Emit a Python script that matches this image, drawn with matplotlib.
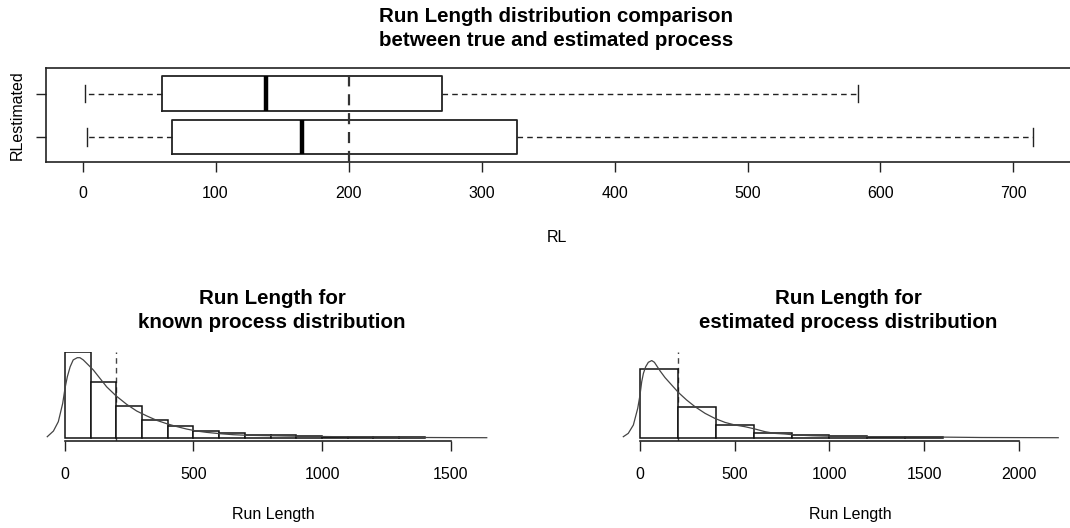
import numpy as np
import matplotlib
matplotlib.use("Agg")
import matplotlib.pyplot as plt

plt.rcParams['font.family'] = ['Liberation Sans', 'DejaVu Sans']

# Boxplot summaries (whisker low, Q1, median, Q3, whisker high)
box_labels = ["RL", "RLestimated"]
rl_stats = [3, 67, 165, 327, 715]
rl_est_stats = [2, 60, 138, 270, 583]
target_arl = 200

# Histogram of the known-process run length (density, x1e-3), bin width 100
known_edges = [0, 100, 200, 300, 400, 500, 600, 700, 800, 900, 1000, 1100, 1200, 1300, 1400]
known_heights = [3.84, 2.49, 1.44, 0.80, 0.54, 0.30, 0.19, 0.12, 0.10, 0.058, 0.045, 0.031, 0.031, 0.013]
# Kernel density of the known-process run length (x1e-3)
known_kde_x = [-69, -45, -26, -9, 0, 9, 20, 32, 48, 58, 71, 91, 110, 136, 162, 198, 240, 279,
               318, 357, 396, 435, 473, 512, 551, 603, 655, 700, 800, 900, 1000, 1100, 1200,
               1300, 1400, 1500, 1641]
known_kde_y = [0.045, 0.30, 0.72, 1.54, 2.22, 2.74, 3.19, 3.50, 3.60, 3.60, 3.50, 3.27, 3.05,
               2.67, 2.29, 1.89, 1.50, 1.20, 0.98, 0.78, 0.63, 0.50, 0.39, 0.30, 0.24, 0.18,
               0.135, 0.112, 0.090, 0.067, 0.054, 0.040, 0.031, 0.022, 0.009, 0.004, 0.0]

# Histogram of the estimated-process run length (density, x1e-3), bin width 200
est_edges = [0, 200, 400, 600, 800, 1000, 1200, 1400, 1600]
est_heights = [2.79, 1.26, 0.515, 0.203, 0.093, 0.061, 0.041, 0.041]
est_kde_x = [-88, -62, -35, -12, 0, 9, 18, 30, 44, 62, 76, 88, 106, 132, 167, 202, 246, 290,
             343, 396, 449, 501, 554, 607, 660, 712, 765, 818, 906, 1000, 1200, 1400, 1600,
             1800, 2000, 2207]
est_kde_y = [0.041, 0.175, 0.515, 1.19, 1.73, 2.27, 2.61, 2.88, 3.06, 3.13, 3.06, 2.92, 2.71,
             2.44, 2.14, 1.84, 1.53, 1.26, 0.99, 0.78, 0.62, 0.515, 0.446, 0.353, 0.244, 0.175,
             0.150, 0.110, 0.081, 0.061, 0.041, 0.032, 0.024, 0.008, 0.004, 0.0]

W, H = 1070, 528
fig = plt.figure(figsize=(W / 100, H / 100), dpi=100)


def px_axes(left, top, right, bottom):
    return fig.add_axes([left / W, 1 - bottom / H, (right - left) / W, (bottom - top) / H])


def fig_text(x, y, s, **kw):
    fig.text(x / W, 1 - y / H, s, ha='center', va='center', **kw)


# ---- top: horizontal boxplots ----
ax = px_axes(46, 68.3, 1072, 162.3)
stats = []
for lab, s in zip(box_labels, [rl_stats, rl_est_stats]):
    stats.append(dict(label=lab, whislo=s[0], q1=s[1], med=s[2], q3=s[3], whishi=s[4], fliers=[]))
ax.bxp(stats, positions=[1, 2], widths=0.8, capwidths=0.4, orientation='horizontal',
       showfliers=False,
       boxprops=dict(color='#222222', lw=1.3),
       medianprops=dict(color='black', lw=3.2, solid_capstyle='butt'),
       whiskerprops=dict(color='#222222', lw=1.0, linestyle=(0, (4, 3))),
       capprops=dict(color='#222222', lw=1.0))
ax.axvline(target_arl, color='#333333', lw=1.6, linestyle=(0, (5, 3.5)), zorder=5)
ax.set_xlim(-27.5, 744)
ax.set_ylim(0.42, 2.58)
ax.set_xticks([0, 100, 200, 300, 400, 500, 600, 700])
ax.set_yticks([1, 2])
ax.set_yticklabels([])
ax.tick_params(axis='both', direction='out', length=7.2, width=1.0, colors='#222222',
               labelcolor='black', labelsize=11.5)
ax.tick_params(axis='x', pad=10)
for sp in ax.spines.values():
    sp.set_linewidth(1.2)
    sp.set_color('#222222')

fig_text(556, 17, "Run Length distribution comparison", fontsize=14.8, weight='bold')
fig_text(556, 40, "between true and estimated process", fontsize=14.8, weight='bold')
fig_text(557, 237, "RL", fontsize=11.5)
fig_text(17, 115, "RLestimated", fontsize=11.5, rotation=90)


# ---- bottom: histograms with density curves ----
def hist_panel(ax, edges, heights, kde_x, kde_y, xlim, ylim, ticks):
    edges = np.asarray(edges, dtype=float)
    ax.bar(edges[:-1], heights, width=np.diff(edges), align='edge', facecolor='white',
           edgecolor='#111111', lw=1.1, zorder=2)
    ax.plot(kde_x, kde_y, color='#444444', lw=0.9, zorder=3)
    ax.axvline(target_arl, color='#444444', lw=1.0, linestyle=(0, (4, 3)), zorder=1)
    ax.set_xlim(*xlim)
    ax.set_ylim(*ylim)
    ax.set_yticks([])
    ax.set_xticks(ticks)
    for side in ['left', 'right', 'top']:
        ax.spines[side].set_visible(False)
    ax.spines['bottom'].set_bounds(ticks[0], ticks[-1])
    ax.spines['bottom'].set_linewidth(1.2)
    ax.spines['bottom'].set_color('#222222')
    ax.tick_params(axis='x', direction='out', length=7.2, width=1.0, colors='#222222',
                   labelcolor='black', labelsize=11.5, pad=11)
    ax.patch.set_alpha(0)


ax1 = px_axes(45, 351.7, 499, 441.3)
hist_panel(ax1, known_edges, known_heights, known_kde_x, known_kde_y,
           (-77.8, 1688.7), (-0.162, 3.869), [0, 500, 1000, 1500])

ax2 = px_axes(620, 351.7, 1076, 441.3)
hist_panel(ax2, est_edges, est_heights, est_kde_x, est_kde_y,
           (-105.5, 2300.8), (-0.146, 3.490), [0, 500, 1000, 1500, 2000])

fig_text(272, 298, "Run Length for", fontsize=14.8, weight='bold')
fig_text(272, 322, "known process distribution", fontsize=14.8, weight='bold')
fig_text(848, 298, "Run Length for", fontsize=14.8, weight='bold')
fig_text(848, 322, "estimated process distribution", fontsize=14.8, weight='bold')
fig_text(273, 515, "Run Length", fontsize=11.5)
fig_text(850, 515, "Run Length", fontsize=11.5)

fig.savefig("out.png", dpi=100, facecolor='white')
